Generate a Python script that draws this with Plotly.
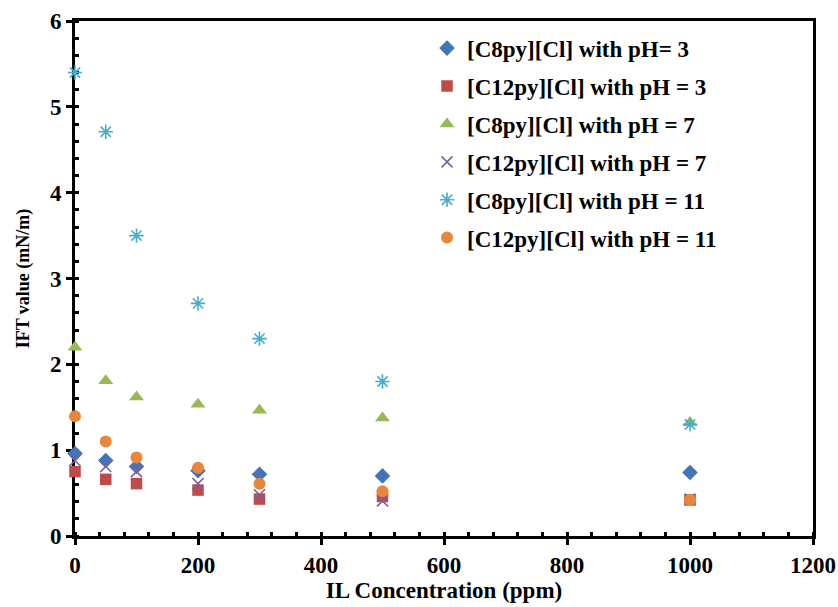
import plotly.graph_objects as go

# IL concentration (ppm) at which IFT was measured
concentration = [0, 50, 100, 200, 300, 500, 1000]

# IFT values (mN/m) per ionic liquid and pH
c8_ph3 = [0.96, 0.88, 0.81, 0.76, 0.72, 0.70, 0.74]
c12_ph3 = [0.75, 0.66, 0.61, 0.535, 0.43, 0.46, 0.42]
c8_ph7 = [2.20, 1.81, 1.62, 1.535, 1.465, 1.375, 1.32]
c12_ph7 = [0.88, 0.81, 0.75, 0.61, 0.48, 0.41, 0.43]
c8_ph11 = [5.40, 4.71, 3.50, 2.71, 2.30, 1.80, 1.30]
c12_ph11 = [1.395, 1.10, 0.915, 0.795, 0.61, 0.52, 0.42]

series_names = [
    "[C8py][Cl] with pH= 3",
    "[C12py][Cl] with pH = 3",
    "[C8py][Cl] with pH = 7",
    "[C12py][Cl] with pH = 7",
    "[C8py][Cl] with pH = 11",
    "[C12py][Cl] with pH = 11",
]

x_ticks = [0, 200, 400, 600, 800, 1000, 1200]
y_ticks = [0, 1, 2, 3, 4, 5, 6]

FONT = "Liberation Serif, Times New Roman, serif"

styles = [
    dict(symbol="diamond", size=12, color="#4474B6"),
    dict(symbol="square", size=11.5, color="#BE4B48"),
    dict(symbol="triangle-up", size=13, color="#98B954"),
    dict(symbol="x-thin-open", size=11, color="#7D5FA0", line=dict(width=1.6, color="#7D5FA0")),
    dict(symbol="asterisk-open", size=12, color="#4AACC5", line=dict(width=1.6, color="#4AACC5")),
    dict(symbol="circle", size=12, color="#E8873A"),
]

values = [c8_ph3, c12_ph3, c8_ph7, c12_ph7, c8_ph11, c12_ph11]

fig = go.Figure()
for i, (name, ys, st) in enumerate(zip(series_names, values, styles)):
    fig.add_trace(go.Scatter(
        x=concentration, y=ys, mode="markers", name=name,
        legendgroup=f"g{i}", marker=st, cliponaxis=False,
    ))

axis_common = dict(
    showgrid=False, zeroline=False, automargin=False, layer="below traces",
    showline=True, linecolor="black", linewidth=3,
    ticks="outside", ticklen=6, tickwidth=3, tickcolor="black",
    tickfont=dict(family=FONT, size=23, color="black", weight="bold"),
    mirror=True,
)

fig.update_xaxes(
    range=[0, 1200], tickvals=x_ticks,
    minor=dict(dtick=40, ticks="inside", ticklen=4, tickwidth=3, tickcolor="black"),
    title=dict(text="IL Concentration (ppm)", font=dict(family=FONT, size=23, color="black", weight="bold"), standoff=4),
    **axis_common,
)
fig.update_yaxes(
    range=[0, 6], tickvals=y_ticks,
    minor=dict(dtick=0.2, ticks="inside", ticklen=4, tickwidth=3, tickcolor="black"),
    title=dict(text="IFT value (mN/m)", font=dict(family=FONT, size=18, color="black", weight="bold"), standoff=16),
    **axis_common,
)

fig.update_layout(
    width=838, height=607,
    margin=dict(l=75, r=25, t=21, b=71),
    paper_bgcolor="white", plot_bgcolor="white",
    legend=dict(
        x=0.477, y=0.989, xanchor="left", yanchor="top",
        font=dict(family=FONT, size=23, color="black", weight="bold"),
        tracegroupgap=5, itemwidth=30, bgcolor="rgba(0,0,0,0)",
    ),
)

fig.write_html("out.html")
